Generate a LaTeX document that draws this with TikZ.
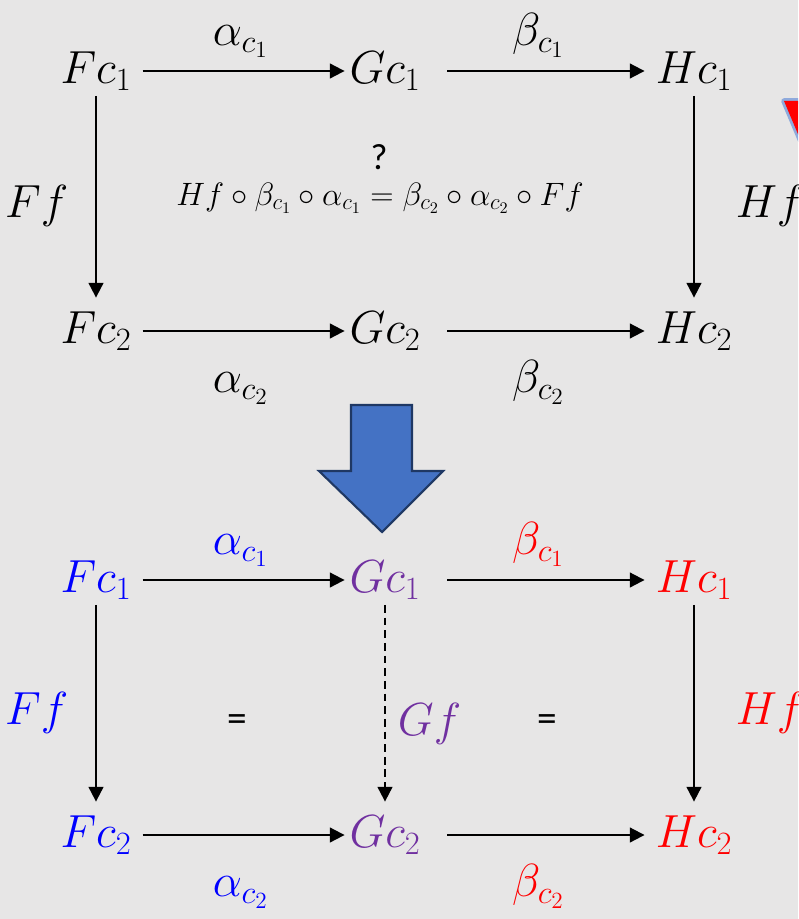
\documentclass[tikz,border=0pt]{standalone}
\usepackage{fix-cm}
\usepackage{fontspec}
\newfontfamily\calibrifont{Carlito}
\usepackage{xcolor}
\definecolor{canvas}{HTML}{E7E6E6}
\definecolor{objF}{HTML}{0000FF}
\definecolor{objG}{HTML}{7030A0}
\definecolor{objH}{HTML}{FF0000}
\definecolor{bigarrow}{HTML}{4472C4}
\definecolor{bigarrowedge}{HTML}{1F3864}
\usetikzlibrary{arrows.meta, positioning}

\begin{document}
\begin{tikzpicture}[x=0.025cm, y=-0.025cm,
    >={Triangle[length=10.5pt, width=10.5pt]},
    bigfont/.style={font=\fontsize{33}{39}\selectfont},
    obj/.style={bigfont, inner sep=0pt, outer sep=0pt},
    map/.style={->, line width=1.4pt},
    uplbl/.style={bigfont, midway, anchor=base, yshift=18pt, inner sep=0pt},
    downlbl/.style={bigfont, midway, anchor=base, yshift=-44pt, inner sep=0pt},
    leftlbl/.style={bigfont, midway, anchor=base east, xshift=-19pt, yshift=-12pt, inner sep=0pt},
    rightlbl/.style={bigfont, midway, anchor=base west, xshift=29pt, yshift=-12pt, inner sep=0pt}]

  \fill[canvas] (0,0) rectangle (798,919);
  \useasboundingbox (0,0) rectangle (798,919);
  \clip (0,0) rectangle (798,919);

  % corner of the red triangle
  \draw[bigarrow!60, line width=4pt, line join=round] (784,101) -- (880,101) -- (830,210) -- cycle;
  \fill[objH] (784,101) -- (880,101) -- (830,210) -- cycle;

  % top square
  \node[obj] (Fc1) at (96,71) {$Fc_1$};
  \node[obj] (Gc1) at (385,71) {$Gc_1$};
  \node[obj] (Hc1) at (694,71) {$Hc_1$};
  \node[obj] (Fc2) at (96,331) {$Fc_2$};
  \node[obj] (Gc2) at (385,331) {$Gc_2$};
  \node[obj] (Hc2) at (694,331) {$Hc_2$};

  \draw[map, shorten <=8pt, shorten >=3.5pt] (Fc1) -- node[uplbl] {$\alpha_{c_1}$} (Gc1);
  \draw[map, shorten <=19pt, shorten >=8pt] (Gc1) -- node[uplbl] {$\beta_{c_1}$} (Hc1);
  \draw[map, shorten <=8pt, shorten >=3.5pt] (Fc2) -- node[downlbl] {$\alpha_{c_2}$} (Gc2);
  \draw[map, shorten <=19pt, shorten >=8pt] (Gc2) -- node[downlbl] {$\beta_{c_2}$} (Hc2);
  \draw[map, shorten <=4pt, shorten >=10pt] (Fc1) -- node[leftlbl] {$Ff$} (Fc2);
  \draw[map, shorten <=4pt, shorten >=10pt] (Hc1) -- node[rightlbl] {$Hf$} (Hc2);

  \node[font=\calibrifont\fontsize{26}{30}\selectfont] (ask) at (379,157) {?};
  \node[font=\fontsize{23}{28}\selectfont, anchor=base] (goal) at (380,205)
    {$Hf\circ\beta_{c_1}\circ\alpha_{c_1}=\beta_{c_2}\circ\alpha_{c_2}\circ Ff$};

  % the big arrow down
  \draw[fill=bigarrow, draw=bigarrowedge, line width=1.5pt]
    (351,405) -- (412,405) -- (412,471) -- (443,471) -- (382,532)
    -- (319,471) -- (351,471) -- cycle;

  % bottom square
  \node[obj, text=objF] (Fc1b) at (96,580) {$Fc_1$};
  \node[obj, text=objG] (Gc1b) at (385,580) {$Gc_1$};
  \node[obj, text=objH] (Hc1b) at (694,580) {$Hc_1$};
  \node[obj, text=objF] (Fc2b) at (96,835) {$Fc_2$};
  \node[obj, text=objG] (Gc2b) at (385,835) {$Gc_2$};
  \node[obj, text=objH] (Hc2b) at (694,835) {$Hc_2$};

  \draw[map, shorten <=8pt, shorten >=3.5pt] (Fc1b) -- node[uplbl, text=objF] {$\alpha_{c_1}$} (Gc1b);
  \draw[map, shorten <=19pt, shorten >=8pt] (Gc1b) -- node[uplbl, text=objH] {$\beta_{c_1}$} (Hc1b);
  \draw[map, shorten <=8pt, shorten >=3.5pt] (Fc2b) -- node[downlbl, text=objF] {$\alpha_{c_2}$} (Gc2b);
  \draw[map, shorten <=19pt, shorten >=8pt] (Gc2b) -- node[downlbl, text=objH] {$\beta_{c_2}$} (Hc2b);
  \draw[map, shorten <=4pt, shorten >=10pt] (Fc1b) -- node[leftlbl, text=objF] {$Ff$} (Fc2b);
  \draw[map, shorten <=4pt, shorten >=10pt] (Hc1b) -- node[rightlbl, text=objH] {$Hf$} (Hc2b);
  \draw[map, dash pattern=on 5.5pt off 3.5pt, shorten <=4pt, shorten >=10pt]
    (Gc1b) -- node[bigfont, midway, anchor=base west, xshift=8.5pt, yshift=-20pt, inner sep=0pt, text=objG] {$Gf$} (Gc2b);

  \node[font=\calibrifont\fontsize{28}{32}\selectfont] (eqL) at (237,723) {=};
  \node[font=\calibrifont\fontsize{28}{32}\selectfont] (eqR) at (547,723) {=};

\end{tikzpicture}
\end{document}
